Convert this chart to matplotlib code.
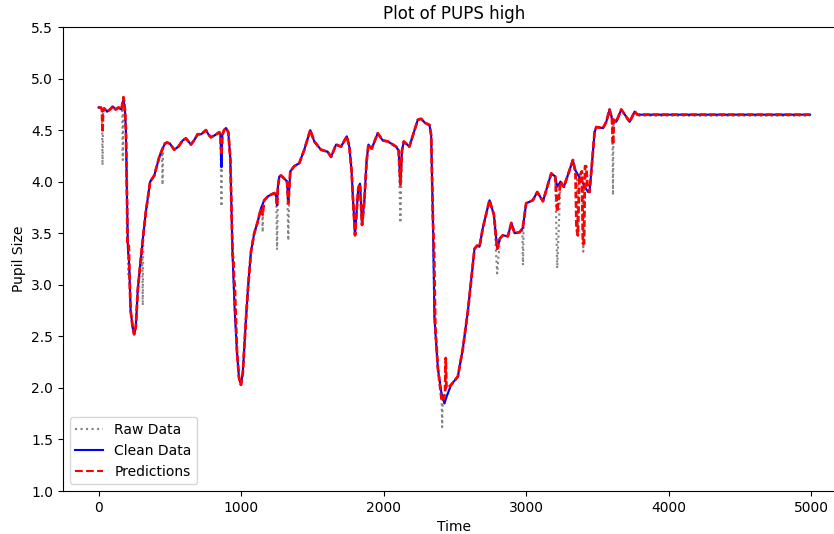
import numpy as np
import matplotlib.pyplot as plt
from matplotlib.lines import Line2D

# Pupil size traces (time in samples)
clean_time = [0, 15, 25, 40, 60, 80, 100, 120, 140, 160, 175, 185, 192, 200, 206, 215, 225, 240, 250, 262,
              275, 297, 315, 332, 350, 362, 391, 426, 449, 466, 480, 500, 531, 560, 590, 613, 648, 670, 695, 720,
              753, 770, 788, 815, 847, 855, 862, 868, 880, 894, 910, 924, 940, 955, 971, 985, 999, 1012, 1034, 1050,
              1069, 1092, 1116, 1139, 1162, 1190, 1233, 1246, 1252, 1258, 1268, 1280, 1303, 1322, 1331, 1338, 1345, 1373, 1408, 1443,
              1485, 1513, 1560, 1607, 1631, 1666, 1701, 1741, 1759, 1775, 1783, 1799, 1812, 1822, 1834, 1848, 1864, 1880, 1893, 1916,
              1958, 1993, 2029, 2087, 2105, 2117, 2128, 2141, 2180, 2239, 2262, 2290, 2321, 2333, 2345, 2356, 2380, 2405, 2426, 2445,
              2473, 2520, 2555, 2590, 2637, 2655, 2672, 2695, 2742, 2773, 2796, 2815, 2836, 2871, 2895, 2918, 2953, 2975, 2999, 3046,
              3077, 3117, 3175, 3203, 3217, 3240, 3264, 3327, 3340, 3433, 3444, 3479, 3491, 3538, 3561, 3584, 3601, 3631, 3666, 3701,
              3725, 3760, 3780, 4990]
clean_size = [4.72, 4.72, 4.70, 4.71, 4.68, 4.70, 4.73, 4.70, 4.72, 4.70, 4.80, 4.70, 4.50, 3.80, 3.35, 3.20, 2.75, 2.58, 2.52, 2.60,
              2.95, 3.26, 3.50, 3.71, 3.88, 4.00, 4.06, 4.24, 4.32, 4.37, 4.38, 4.37, 4.31, 4.34, 4.40, 4.42, 4.36, 4.40, 4.46, 4.46,
              4.50, 4.46, 4.43, 4.45, 4.48, 4.45, 4.14, 4.45, 4.50, 4.52, 4.48, 4.23, 3.29, 2.75, 2.35, 2.10, 2.03, 2.15, 2.67, 3.00,
              3.32, 3.50, 3.61, 3.74, 3.82, 3.86, 3.89, 3.86, 3.77, 3.95, 4.05, 4.06, 4.03, 4.00, 3.79, 3.95, 4.10, 4.15, 4.18, 4.31,
              4.50, 4.39, 4.31, 4.29, 4.24, 4.36, 4.34, 4.44, 4.34, 4.10, 3.87, 3.48, 3.75, 3.94, 3.98, 3.58, 3.81, 4.20, 4.36, 4.32,
              4.47, 4.40, 4.39, 4.34, 4.30, 3.97, 4.30, 4.39, 4.34, 4.60, 4.61, 4.57, 4.55, 4.45, 3.64, 2.67, 2.19, 1.95, 1.85, 1.93,
              2.03, 2.11, 2.38, 2.74, 3.35, 3.38, 3.37, 3.55, 3.82, 3.68, 3.35, 3.45, 3.48, 3.47, 3.60, 3.50, 3.51, 3.55, 3.79, 3.82,
              3.90, 3.81, 4.08, 4.05, 3.95, 4.00, 3.95, 4.21, 4.12, 3.90, 3.90, 4.48, 4.53, 4.52, 4.58, 4.70, 4.61, 4.58, 4.70, 4.63,
              4.58, 4.68, 4.65, 4.65]

raw_time = [0, 15, 24, 28, 32, 40, 60, 80, 100, 120, 140, 160, 166, 170, 174, 185, 192, 200, 206, 210,
            213, 225, 240, 250, 262, 275, 297, 306, 310, 314, 332, 350, 362, 391, 426, 445, 449, 453, 466, 480,
            500, 531, 560, 590, 613, 648, 670, 695, 720, 753, 770, 788, 815, 847, 855, 862, 868, 880, 894, 910,
            924, 940, 955, 971, 985, 999, 1012, 1034, 1050, 1069, 1092, 1116, 1139, 1147, 1151, 1155, 1162, 1190, 1233, 1246,
            1252, 1258, 1268, 1280, 1303, 1322, 1331, 1338, 1345, 1373, 1408, 1443, 1485, 1513, 1560, 1607, 1631, 1666, 1701, 1741,
            1759, 1775, 1783, 1799, 1812, 1822, 1834, 1848, 1864, 1880, 1893, 1916, 1958, 1993, 2029, 2087, 2105, 2117, 2128, 2141,
            2180, 2239, 2262, 2290, 2321, 2333, 2345, 2356, 2380, 2405, 2410, 2415, 2426, 2445, 2473, 2520, 2555, 2590, 2637, 2655,
            2672, 2695, 2742, 2773, 2796, 2815, 2836, 2871, 2895, 2918, 2953, 2972, 2977, 2982, 2999, 3046, 3077, 3117, 3175, 3203,
            3217, 3240, 3264, 3327, 3340, 3356, 3360, 3366, 3394, 3400, 3406, 3433, 3444, 3479, 3491, 3538, 3561, 3584, 3604, 3608,
            3612, 3631, 3666, 3701, 3725, 3760, 3780, 4990]
raw_size = [4.72, 4.72, 4.70, 4.16, 4.70, 4.71, 4.68, 4.70, 4.73, 4.70, 4.72, 4.70, 4.71, 4.21, 4.78, 4.70, 4.50, 3.80, 3.35, 3.10,
            3.22, 2.75, 2.58, 2.52, 2.60, 2.95, 3.26, 3.38, 2.80, 3.46, 3.71, 3.88, 4.00, 4.06, 4.24, 4.31, 3.97, 4.33, 4.37, 4.38,
            4.37, 4.31, 4.34, 4.40, 4.42, 4.36, 4.40, 4.46, 4.46, 4.50, 4.46, 4.43, 4.45, 4.48, 4.45, 3.76, 4.45, 4.50, 4.52, 4.48,
            4.23, 3.29, 2.75, 2.35, 2.10, 2.03, 2.15, 2.67, 3.00, 3.32, 3.50, 3.61, 3.74, 3.77, 3.51, 3.80, 3.82, 3.86, 3.89, 3.86,
            3.34, 3.95, 4.05, 4.06, 4.03, 4.00, 3.43, 3.95, 4.10, 4.15, 4.18, 4.31, 4.50, 4.39, 4.31, 4.29, 4.24, 4.36, 4.34, 4.44,
            4.34, 4.10, 3.87, 3.48, 3.75, 3.94, 3.98, 3.58, 3.81, 4.20, 4.36, 4.32, 4.47, 4.40, 4.39, 4.34, 4.30, 3.60, 4.30, 4.39,
            4.34, 4.60, 4.61, 4.57, 4.55, 4.45, 3.64, 2.67, 2.19, 1.95, 1.62, 1.92, 1.85, 1.93, 2.03, 2.11, 2.38, 2.74, 3.35, 3.38,
            3.37, 3.55, 3.82, 3.68, 3.11, 3.45, 3.48, 3.47, 3.60, 3.50, 3.51, 3.55, 3.19, 3.60, 3.79, 3.82, 3.90, 3.81, 4.08, 4.05,
            3.16, 4.00, 3.95, 4.21, 4.12, 4.08, 3.48, 4.06, 4.00, 3.32, 3.95, 3.90, 3.90, 4.48, 4.53, 4.52, 4.58, 4.70, 4.61, 3.87,
            4.60, 4.58, 4.70, 4.63, 4.58, 4.68, 4.64, 4.64]

pred_time = [0, 15, 24, 28, 32, 40, 60, 80, 100, 120, 140, 160, 175, 185, 192, 200, 203, 212, 216, 225,
             240, 250, 262, 275, 297, 315, 332, 350, 362, 391, 426, 449, 466, 480, 500, 531, 560, 590, 613, 648,
             670, 695, 720, 753, 770, 788, 815, 847, 855, 862, 868, 880, 894, 910, 924, 940, 946, 950, 955, 958,
             965, 971, 985, 999, 1012, 1034, 1050, 1069, 1092, 1116, 1139, 1151, 1162, 1190, 1233, 1246, 1252, 1258, 1268, 1280,
             1303, 1322, 1331, 1338, 1345, 1373, 1408, 1443, 1485, 1513, 1560, 1607, 1631, 1666, 1701, 1741, 1759, 1775, 1783, 1799,
             1812, 1822, 1834, 1848, 1864, 1880, 1893, 1916, 1958, 1993, 2029, 2087, 2105, 2117, 2128, 2141, 2180, 2239, 2262, 2290,
             2321, 2333, 2345, 2350, 2354, 2358, 2362, 2380, 2405, 2415, 2430, 2435, 2440, 2450, 2473, 2520, 2555, 2590, 2637, 2655,
             2672, 2695, 2742, 2773, 2796, 2815, 2836, 2871, 2895, 2918, 2953, 2975, 2999, 3046, 3077, 3117, 3175, 3203, 3217, 3240,
             3264, 3327, 3345, 3352, 3362, 3372, 3390, 3397, 3405, 3412, 3420, 3430, 3444, 3479, 3491, 3538, 3561, 3584, 3601, 3608,
             3615, 3631, 3666, 3701, 3725, 3760, 3780, 4990]
pred_size = [4.72, 4.72, 4.70, 4.48, 4.70, 4.71, 4.68, 4.70, 4.73, 4.70, 4.72, 4.70, 4.82, 4.70, 4.50, 3.80, 3.38, 3.38, 3.15, 2.75,
             2.58, 2.52, 2.60, 2.95, 3.26, 3.50, 3.71, 3.88, 4.00, 4.06, 4.24, 4.32, 4.37, 4.38, 4.37, 4.31, 4.34, 4.40, 4.42, 4.36,
             4.40, 4.46, 4.46, 4.50, 4.46, 4.43, 4.45, 4.48, 4.45, 4.26, 4.45, 4.50, 4.52, 4.48, 4.23, 3.29, 3.25, 3.05, 3.00, 2.87,
             2.60, 2.35, 2.10, 2.03, 2.15, 2.67, 3.00, 3.32, 3.50, 3.61, 3.74, 3.68, 3.82, 3.86, 3.89, 3.86, 3.77, 3.95, 4.05, 4.06,
             4.03, 4.00, 3.79, 3.95, 4.10, 4.15, 4.18, 4.31, 4.50, 4.39, 4.31, 4.29, 4.24, 4.36, 4.34, 4.44, 4.34, 4.10, 3.87, 3.48,
             3.75, 3.94, 3.98, 3.58, 3.81, 4.20, 4.36, 4.32, 4.47, 4.40, 4.39, 4.34, 4.30, 3.97, 4.30, 4.39, 4.34, 4.60, 4.61, 4.57,
             4.55, 4.45, 3.64, 3.45, 3.30, 2.90, 2.60, 2.19, 1.90, 1.87, 1.95, 2.29, 2.00, 2.00, 2.03, 2.11, 2.38, 2.74, 3.35, 3.38,
             3.37, 3.55, 3.82, 3.68, 3.35, 3.45, 3.48, 3.47, 3.60, 3.50, 3.51, 3.55, 3.79, 3.82, 3.90, 3.81, 4.08, 4.05, 3.71, 4.00,
             3.95, 4.21, 4.10, 3.55, 3.48, 4.05, 4.10, 3.40, 3.40, 4.15, 4.15, 3.95, 3.90, 4.48, 4.53, 4.52, 4.58, 4.70, 4.61, 4.36,
             4.60, 4.58, 4.70, 4.63, 4.58, 4.68, 4.65, 4.65]

fig = plt.figure(figsize=(8.34, 5.34), dpi=100)
ax = fig.add_axes([0.0755, 0.0805, 0.9384, 0.8689])

ax.plot(raw_time, raw_size, color="gray", linestyle=":", linewidth=1.5)
ax.plot(clean_time, clean_size, color="blue", linestyle="-", linewidth=1.5)
ax.plot(pred_time, pred_size, color="red", linestyle="--", linewidth=2.0, dashes=(2.4, 1.0))

ax.set_xlim(-249.5, 5239.5)
ax.set_ylim(1.0, 5.5)
ax.set_xticks(np.arange(0, 5001, 1000))
ax.set_yticks(np.arange(1.0, 5.51, 0.5))
ax.set_xlabel("Time")
ax.set_ylabel("Pupil Size")
ax.set_title("Plot of PUPS high")

handles = [
    Line2D([], [], color="gray", linestyle=":", linewidth=1.5),
    Line2D([], [], color="blue", linestyle="-", linewidth=1.5),
    Line2D([], [], color="red", linestyle="--", linewidth=1.5),
]
ax.legend(handles, ["Raw Data", "Clean Data", "Predictions"], loc="lower left")

fig.savefig("out.png", dpi=100)
